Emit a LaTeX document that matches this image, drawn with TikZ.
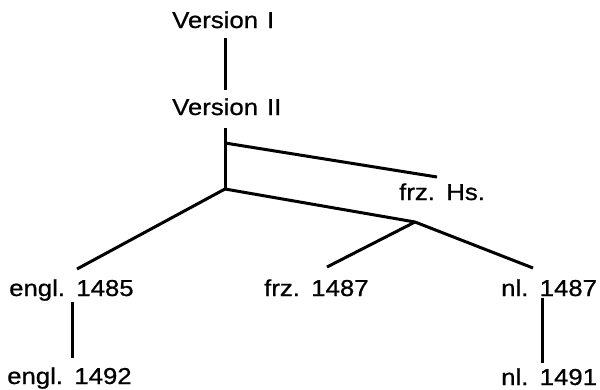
\documentclass[tikz,border=0pt]{standalone}
\usepackage{fontspec}
\setmainfont[FakeStretch=1.12,WordSpace=1.25,FakeBold=0.8]{Liberation Sans}
\begin{document}
\begin{tikzpicture}[x=1pt,y=-1pt,
  lbl/.style={anchor=base west,inner sep=0pt,font=\fontsize{23}{27}\selectfont},
  edge/.style={line width=3pt,line cap=butt}]
\useasboundingbox (0,0) rectangle (600,389);
% labels of the stemma
\node[lbl] (v1)  at (172,28)  {Version I};
\node[lbl] (v2)  at (172,115) {Version II};
\node[lbl] (hs)  at (399,200) {frz. Hs.};
\node[lbl] (e85) at (9,296)   {engl. 1485};
\node[lbl] (f87) at (264,296) {frz. 1487};
\node[lbl] (n87) at (501,296) {nl. 1487};
\node[lbl] (e92) at (7,384)   {engl. 1492};
\node[lbl] (n91) at (501,385) {nl. 1491};
% branching points and line ends
\coordinate (a1) at (225,38);
\coordinate (a2) at (225,90);
\coordinate (b1) at (225,128);
\coordinate (b2) at (225,143);
\coordinate (j1) at (225,189);
\coordinate (hsend) at (437,177);
\coordinate (j2) at (415,222);
\coordinate (eend) at (77,269);
\coordinate (fend) at (327,267);
\coordinate (nend) at (533,268);
\coordinate (e1) at (72,302);
\coordinate (e2) at (72,358);
\coordinate (n1) at (542,298);
\coordinate (n2) at (542,363);
% connectors
\draw[edge] (a1) -- (a2);
\draw[edge] (b1) -- (j1);
\draw[edge] (b2) -- (hsend);
\draw[edge] (j1) -- (eend);
\draw[edge,line join=miter] (j1) -- (j2) -- (nend);
\draw[edge] (j2) -- (fend);
\draw[edge] (e1) -- (e2);
\draw[edge] (n1) -- (n2);
\end{tikzpicture}
\end{document}
